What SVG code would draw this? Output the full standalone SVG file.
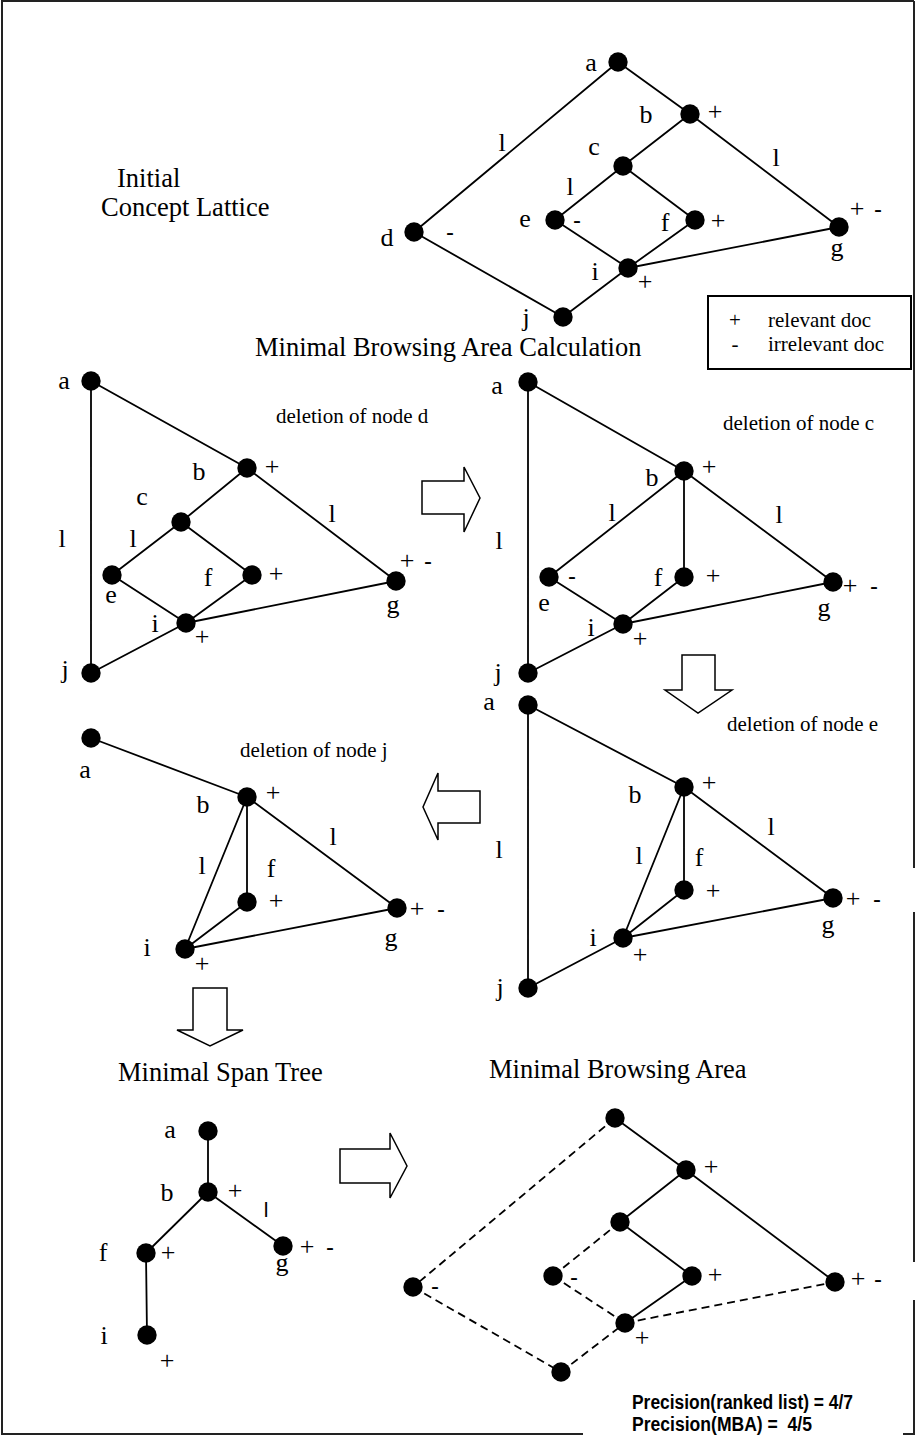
<svg xmlns="http://www.w3.org/2000/svg" width="916" height="1438" viewBox="0 0 916 1438">
<style>
.n{fill:#000}
.e{stroke:#000;stroke-width:1.8;fill:none}
.d{stroke-dasharray:8 5}
.t{font-family:"Liberation Serif","Times New Roman",serif;font-size:26px;fill:#000;text-anchor:middle}
.m{font-family:"Liberation Sans",Arial,sans-serif;font-size:24px;fill:#000;text-anchor:middle}
.sl{font-family:"Liberation Sans",Arial,sans-serif;font-size:21px;fill:#000;text-anchor:middle}
.h{font-family:"Liberation Serif","Times New Roman",serif;font-size:26.5px;fill:#000}
.dl{font-family:"Liberation Serif","Times New Roman",serif;font-size:21px;fill:#000}
.p{font-family:"Liberation Sans Narrow","Liberation Sans",Arial,sans-serif;font-size:20px;font-weight:bold;fill:#000}
.ar{fill:#fff;stroke:#000;stroke-width:1.5}
.bd{stroke:#222;stroke-width:2;fill:none}
</style>

<g id="border">
<path class="bd" d="M914,1 H2 V1434 H583 M903,1434 H914 V1300 M914,1262 V912 M914,868 V1"/>
</g>

<g id="titles">
<text class="h" x="117" y="187">Initial</text>
<text class="h" x="101" y="216">Concept Lattice</text>
<text class="h" x="255" y="356">Minimal Browsing Area Calculation</text>
<text class="h" x="118" y="1081">Minimal Span Tree</text>
<text class="h" x="489" y="1078">Minimal Browsing Area</text>
<text class="dl" x="276" y="423">deletion of node d</text>
<text class="dl" x="723" y="430">deletion of node c</text>
<text class="dl" x="240" y="757">deletion of node j</text>
<text class="dl" x="727" y="731">deletion of node e</text>
</g>

<g id="legend">
<rect x="708" y="296" width="203" height="73" fill="#fff" stroke="#000" stroke-width="2"/>
<text class="dl" x="735" y="327" text-anchor="middle">+</text>
<text class="dl" x="768" y="327">relevant doc</text>
<text class="dl" x="735" y="351" text-anchor="middle">-</text>
<text class="dl" x="768" y="351">irrelevant doc</text>
</g>

<g id="precision">
<text class="p" x="632" y="1409" textLength="221" lengthAdjust="spacingAndGlyphs">Precision(ranked list) = 4/7</text>
<text class="p" x="632" y="1431" textLength="180" lengthAdjust="spacingAndGlyphs" xml:space="preserve">Precision(MBA) =  4/5</text>
</g>

<g id="arrows">
<polygon class="ar" points="422,481 464,481 464,467 480,498 464,532 464,514 422,514"/>
<polygon class="ar" points="682,655 715,655 715,690 732,690 698,713 665,690 682,690"/>
<polygon class="ar" points="480,791 438,791 438,773 423,807 438,840 438,823 480,823"/>
<polygon class="ar" points="193,988 227,988 227,1030 243,1030 210,1046 177,1030 193,1030"/>
<polygon class="ar" points="340,1149 390,1149 390,1133 407,1166 390,1198 390,1183 340,1183"/>
</g>

<g id="connectors">
<!-- panel 1 -->
<path class="e" d="M618,62 L690,114 M618,62 L414,232 M690,114 L623,166 M690,114 L839,227 M623,166 L555,220 M623,166 L695,220 M555,220 L628,268 M695,220 L628,268 M628,268 L839,227 M414,232 L563,317 M628,268 L563,317"/>
<!-- panel 2 -->
<path class="e" d="M91,381 L247,468 M91,381 L91,673 M247,468 L181,522 M247,468 L396,581 M181,522 L112,575 M181,522 L252,575 M112,575 L186,623 M252,575 L186,623 M186,623 L396,581 M186,623 L91,673"/>
<!-- panel 3 -->
<path class="e" d="M528,382 L684,471 M528,382 L528,673 M684,471 L549,577 M684,471 L684,577 M684,471 L833,582 M549,577 L623,624 M684,577 L623,624 M623,624 L833,582 M623,624 L528,673"/>
<!-- panel 4 -->
<path class="e" d="M91,738 L247,797 M247,797 L185,949 M247,797 L247,902 M247,797 L397,908 M247,902 L185,949 M185,949 L397,908"/>
<!-- panel 5 -->
<path class="e" d="M528,705 L684,787 M528,705 L528,988 M684,787 L623,938 M684,787 L684,890 M684,787 L833,898 M684,890 L623,938 M623,938 L833,898 M623,938 L528,988"/>
<!-- MST -->
<path class="e" d="M208,1131 L208,1192 M208,1192 L146,1253 M208,1192 L283,1246 M146,1253 L147,1335"/>
<!-- MBA -->
<path class="e" d="M615,1118 L686,1170 M686,1170 L620,1222 M686,1170 L835,1282 M620,1222 L692,1276 M692,1276 L625,1323"/>
<path class="e d" d="M615,1118 L413,1287 M620,1222 L553,1276 M553,1276 L625,1323 M625,1323 L835,1282 M413,1287 L561,1372 M561,1372 L625,1323"/>
</g>

<!-- panel 1 nodes -->
<g id="p1-a"><circle class="n" cx="618" cy="62" r="9.7"/><text class="t" x="591" y="71">a</text></g>
<g id="p1-b"><circle class="n" cx="690" cy="114" r="9.7"/><text class="t" x="646" y="123">b</text><text class="t" x="715" y="120">+</text></g>
<g id="p1-c"><circle class="n" cx="623" cy="166" r="9.7"/><text class="t" x="594" y="155">c</text></g>
<g id="p1-e"><circle class="n" cx="555" cy="220" r="9.7"/><text class="t" x="525" y="227">e</text><text class="m" x="577" y="228">-</text></g>
<g id="p1-f"><circle class="n" cx="695" cy="220" r="9.7"/><text class="t" x="665" y="231">f</text><text class="t" x="718" y="229">+</text></g>
<g id="p1-g"><circle class="n" cx="839" cy="227" r="9.7"/><text class="t" x="837" y="256">g</text><text class="t" x="857" y="217">+</text><text class="m" x="878" y="217">-</text></g>
<g id="p1-d"><circle class="n" cx="414" cy="232" r="9.7"/><text class="t" x="387" y="246">d</text><text class="m" x="450" y="240">-</text></g>
<g id="p1-i"><circle class="n" cx="628" cy="268" r="9.7"/><text class="t" x="595" y="280">i</text><text class="t" x="645" y="290">+</text></g>
<g id="p1-j"><circle class="n" cx="563" cy="317" r="9.7"/><text class="t" x="526" y="326">j</text></g>
<g id="p1-labels"><text class="t" x="502" y="151">l</text><text class="t" x="776" y="166">l</text><text class="t" x="570" y="195">l</text></g>

<!-- panel 2 nodes -->
<g id="p2-a"><circle class="n" cx="91" cy="381" r="9.7"/><text class="t" x="64" y="389">a</text></g>
<g id="p2-b"><circle class="n" cx="247" cy="468" r="9.7"/><text class="t" x="199" y="480">b</text><text class="t" x="272" y="475">+</text></g>
<g id="p2-c"><circle class="n" cx="181" cy="522" r="9.7"/><text class="t" x="142" y="505">c</text></g>
<g id="p2-e"><circle class="n" cx="112" cy="575" r="9.7"/><text class="t" x="111" y="603">e</text></g>
<g id="p2-f"><circle class="n" cx="252" cy="575" r="9.7"/><text class="t" x="208" y="586">f</text><text class="t" x="276" y="582">+</text></g>
<g id="p2-g"><circle class="n" cx="396" cy="581" r="9.7"/><text class="t" x="393" y="613">g</text><text class="t" x="407" y="569">+</text><text class="m" x="428" y="569">-</text></g>
<g id="p2-i"><circle class="n" cx="186" cy="623" r="9.7"/><text class="t" x="155" y="632">i</text><text class="t" x="202" y="645">+</text></g>
<g id="p2-j"><circle class="n" cx="91" cy="673" r="9.7"/><text class="t" x="65" y="678">j</text></g>
<g id="p2-labels"><text class="t" x="62" y="547">l</text><text class="t" x="133" y="547">l</text><text class="t" x="332" y="522">l</text></g>

<!-- panel 3 nodes -->
<g id="p3-a"><circle class="n" cx="528" cy="382" r="9.7"/><text class="t" x="497" y="394">a</text></g>
<g id="p3-b"><circle class="n" cx="684" cy="471" r="9.7"/><text class="t" x="652" y="486">b</text><text class="t" x="709" y="475">+</text></g>
<g id="p3-e"><circle class="n" cx="549" cy="577" r="9.7"/><text class="t" x="544" y="611">e</text><text class="m" x="572" y="584">-</text></g>
<g id="p3-f"><circle class="n" cx="684" cy="577" r="9.7"/><text class="t" x="658" y="586">f</text><text class="t" x="713" y="584">+</text></g>
<g id="p3-g"><circle class="n" cx="833" cy="582" r="9.7"/><text class="t" x="824" y="616">g</text><text class="t" x="850" y="594">+</text><text class="m" x="874" y="594">-</text></g>
<g id="p3-i"><circle class="n" cx="623" cy="624" r="9.7"/><text class="t" x="591" y="636">i</text><text class="t" x="640" y="647">+</text></g>
<g id="p3-j"><circle class="n" cx="528" cy="673" r="9.7"/><text class="t" x="498" y="681">j</text></g>
<g id="p3-labels"><text class="t" x="499" y="549">l</text><text class="t" x="612" y="521">l</text><text class="t" x="779" y="523">l</text></g>

<!-- panel 4 nodes -->
<g id="p4-a"><circle class="n" cx="91" cy="738" r="9.7"/><text class="t" x="85" y="778">a</text></g>
<g id="p4-b"><circle class="n" cx="247" cy="797" r="9.7"/><text class="t" x="203" y="813">b</text><text class="t" x="273" y="801">+</text></g>
<g id="p4-f"><circle class="n" cx="247" cy="902" r="9.7"/><text class="t" x="271" y="877">f</text><text class="t" x="276" y="909">+</text></g>
<g id="p4-g"><circle class="n" cx="397" cy="908" r="9.7"/><text class="t" x="391" y="946">g</text><text class="t" x="417" y="917">+</text><text class="m" x="441" y="917">-</text></g>
<g id="p4-i"><circle class="n" cx="185" cy="949" r="9.7"/><text class="t" x="147" y="956">i</text><text class="t" x="202" y="972">+</text></g>
<g id="p4-labels"><text class="t" x="202" y="874">l</text><text class="t" x="333" y="845">l</text></g>

<!-- panel 5 nodes -->
<g id="p5-a"><circle class="n" cx="528" cy="705" r="9.7"/><text class="t" x="489" y="710">a</text></g>
<g id="p5-b"><circle class="n" cx="684" cy="787" r="9.7"/><text class="t" x="635" y="803">b</text><text class="t" x="709" y="791">+</text></g>
<g id="p5-f"><circle class="n" cx="684" cy="890" r="9.7"/><text class="t" x="699" y="866">f</text><text class="t" x="713" y="899">+</text></g>
<g id="p5-g"><circle class="n" cx="833" cy="898" r="9.7"/><text class="t" x="828" y="933">g</text><text class="t" x="853" y="907">+</text><text class="m" x="877" y="907">-</text></g>
<g id="p5-i"><circle class="n" cx="623" cy="938" r="9.7"/><text class="t" x="593" y="946">i</text><text class="t" x="640" y="963">+</text></g>
<g id="p5-j"><circle class="n" cx="528" cy="988" r="9.7"/><text class="t" x="500" y="996">j</text></g>
<g id="p5-labels"><text class="t" x="499" y="858">l</text><text class="t" x="639" y="864">l</text><text class="t" x="771" y="835">l</text></g>

<!-- minimal span tree -->
<g id="mst-a"><circle class="n" cx="208" cy="1131" r="9.7"/><text class="t" x="170" y="1138">a</text></g>
<g id="mst-b"><circle class="n" cx="208" cy="1192" r="9.7"/><text class="t" x="167" y="1201">b</text><text class="t" x="235" y="1199">+</text></g>
<g id="mst-f"><circle class="n" cx="146" cy="1253" r="9.7"/><text class="t" x="103" y="1261">f</text><text class="t" x="168" y="1261">+</text></g>
<g id="mst-g"><circle class="n" cx="283" cy="1246" r="9.7"/><text class="t" x="282" y="1271">g</text><text class="t" x="307" y="1255">+</text><text class="m" x="330" y="1255">-</text></g>
<g id="mst-i"><circle class="n" cx="147" cy="1335" r="9.7"/><text class="t" x="104" y="1344">i</text><text class="t" x="167" y="1369">+</text></g>
<g id="mst-labels"><text class="sl" x="266" y="1217">l</text></g>

<!-- minimal browsing area -->
<g id="mba-a"><circle class="n" cx="615" cy="1118" r="9.7"/></g>
<g id="mba-b"><circle class="n" cx="686" cy="1170" r="9.7"/><text class="t" x="711" y="1175">+</text></g>
<g id="mba-c"><circle class="n" cx="620" cy="1222" r="9.7"/></g>
<g id="mba-e"><circle class="n" cx="553" cy="1276" r="9.7"/><text class="m" x="574" y="1285">-</text></g>
<g id="mba-f"><circle class="n" cx="692" cy="1276" r="9.7"/><text class="t" x="715" y="1283">+</text></g>
<g id="mba-g"><circle class="n" cx="835" cy="1282" r="9.7"/><text class="t" x="858" y="1287">+</text><text class="m" x="878" y="1287">-</text></g>
<g id="mba-d"><circle class="n" cx="413" cy="1287" r="9.7"/><text class="m" x="435" y="1294">-</text></g>
<g id="mba-i"><circle class="n" cx="625" cy="1323" r="9.7"/><text class="t" x="642" y="1346">+</text></g>
<g id="mba-j"><circle class="n" cx="561" cy="1372" r="9.7"/></g>
</svg>
